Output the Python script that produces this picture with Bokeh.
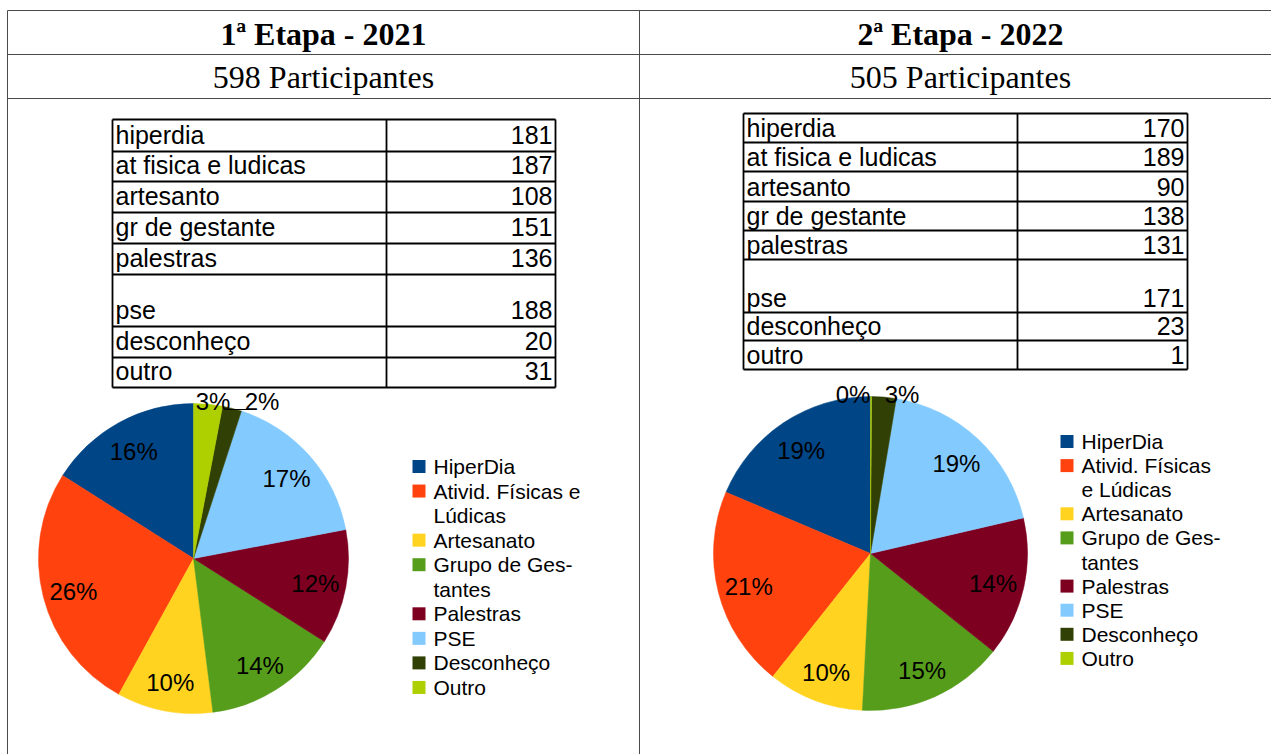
import math
from bokeh.plotting import figure
from bokeh.models import Range1d, ColumnDataSource
from bokeh.core.properties import value
from bokeh.embed import file_html
from bokeh.resources import INLINE

# ---------------- data ----------------
headers = ["1ª Etapa - 2021", "2ª Etapa - 2022"]
participants = [598, 505]

table_rows = ["hiperdia", "at fisica e ludicas", "artesanto", "gr de gestante",
              "palestras", "pse", "desconheço", "outro"]
table_2021 = [181, 187, 108, 151, 136, 188, 20, 31]
table_2022 = [170, 189, 90, 138, 131, 171, 23, 1]

categories = ["HiperDia", "Ativid. Físicas e Lúdicas", "Artesanato", "Grupo de Gestantes",
              "Palestras", "PSE", "Desconheço", "Outro"]
legend_2021 = [["HiperDia"], ["Ativid. Físicas e", "Lúdicas"], ["Artesanato"],
               ["Grupo de Ges-", "tantes"], ["Palestras"], ["PSE"], ["Desconheço"], ["Outro"]]
legend_2022 = [["HiperDia"], ["Ativid. Físicas", "e Lúdicas"], ["Artesanato"],
               ["Grupo de Ges-", "tantes"], ["Palestras"], ["PSE"], ["Desconheço"], ["Outro"]]

# pie shares as drawn in the chart (2021 pie percentages; 2022 pie uses the table counts)
pie_2021 = [16, 26, 10, 14, 12, 17, 2, 3]
pie_2022 = table_2022

colors = ["#004586", "#ff420e", "#ffd320", "#579d1c", "#7e0021", "#83caff", "#314004", "#aecf00"]

# ---------------- layout helpers ----------------
W, H = 1271, 754


def Y(sy):
    return H - sy


p = figure(width=W, height=H, x_range=Range1d(0, W), y_range=Range1d(0, H),
           output_backend="svg", toolbar_location=None, min_border=0)
p.axis.visible = False
p.grid.visible = False
p.outline_line_color = None
p.background_fill_color = "white"
p.border_fill_color = "white"

# outer page table
grid_col = "#4a4a4a"
for sy in [10, 54, 98]:
    p.line([7, 1285], [Y(sy), Y(sy)], line_color=grid_col, line_width=1)
for sx in [7, 639]:
    p.line([sx, sx], [Y(10), Y(770)], line_color=grid_col, line_width=1)

serif = value("Liberation Serif")
sans = value("Liberation Sans")

for cx, head, n in zip([323, 960], headers, participants):
    p.text(x=[cx], y=[Y(33.5)], text=[head], text_font=serif, text_font_size="32px",
           text_font_style="bold", text_align="center", text_baseline="middle",
           text_color="black")
    p.text(x=[cx], y=[Y(76.5)], text=[f"{n} Participantes"], text_font=serif,
           text_font_size="32px", text_align="center", text_baseline="middle",
           text_color="black")


def draw_table(left, right, split, top, heights, values, cen_off):
    edges = [top]
    for h in heights:
        edges.append(edges[-1] + h)
    for e in edges:
        p.line([left, right], [Y(e), Y(e)], line_color="black", line_width=1.8)
    for sx in [left, split, right]:
        p.line([sx, sx], [Y(edges[0]), Y(edges[-1])], line_color="black", line_width=1.8)
    ys = [Y(edges[i + 1] - cen_off) for i in range(len(values))]
    p.text(x=[left + 3] * len(values), y=ys, text=table_rows, text_font=sans,
           text_font_size="25px", text_align="left", text_baseline="middle",
           text_color="black")
    p.text(x=[right - 3] * len(values), y=ys, text=[str(v) for v in values], text_font=sans,
           text_font_size="25px", text_align="right", text_baseline="middle",
           text_color="black")


draw_table(112, 555, 386, 119, [32, 30, 31, 31, 31, 52, 31, 30], table_2021, 17)
draw_table(743, 1187, 1017, 113, [29, 29, 30, 29, 29, 53, 28, 29], table_2022, 14.5)


def draw_pie(cx, cy, r, vals, small_nudge, lead):
    total = float(sum(vals))
    starts, ends = [], []
    a = math.pi / 2
    for v in vals:
        starts.append(a)
        a += 2 * math.pi * v / total
        ends.append(a)
    src = ColumnDataSource(dict(start=starts, end=ends, color=colors))
    p.wedge(x=cx, y=Y(cy), radius=r, start_angle="start", end_angle="end",
            direction="anticlock", fill_color="color", line_color="color",
            line_width=0.5, source=src)
    lx, ly, lt = [], [], []
    for i, v in enumerate(vals):
        pct = round(100 * v / total)
        mid = (starts[i] + ends[i]) / 2
        if i in small_nudge:
            x = cx + r * math.cos(mid) + small_nudge[i]
            y = Y(cy) + r + 2
        else:
            x = cx + 0.8 * r * math.cos(mid)
            y = Y(cy) + 0.8 * r * math.sin(mid) - 2
        lx.append(x)
        ly.append(y)
        lt.append(f"{pct}%")
    p.text(x=lx, y=ly, text=lt, text_font=sans, text_font_size="24px",
           text_align="center", text_baseline="middle", text_color="black")
    for i, (x0, x1) in lead.items():
        p.line([x0, x1], [Y(cy) + r - 6, Y(cy) + r - 6], line_color="black", line_width=1)


draw_pie(193, 558, 155, pie_2021, {7: 5, 6: 30}, {6: (227, 247)})
draw_pie(870, 553, 157, pie_2022, {7: -18, 6: 18}, {})


def draw_legend(sq_x, tx, y0, step, labels):
    line = 0
    sx, sy, tx_, ty_, tt = [], [], [], [], []
    for i, lines in enumerate(labels):
        sx.append(sq_x + 6.5)
        sy.append(Y(y0 + line * step))
        for ln in lines:
            tx_.append(tx)
            ty_.append(Y(y0 + line * step))
            tt.append(ln)
            line += 1
    p.rect(x=sx, y=sy, width=13, height=13, fill_color=colors, line_color=None)
    p.text(x=tx_, y=ty_, text=tt, text_font=sans, text_font_size="21px",
           text_align="left", text_baseline="middle", text_color="black")


draw_legend(412, 433, 466, 24.55, legend_2021)
draw_legend(1060, 1081, 441, 24.1, legend_2022)

open("out.html", "w").write(file_html(p, INLINE))
